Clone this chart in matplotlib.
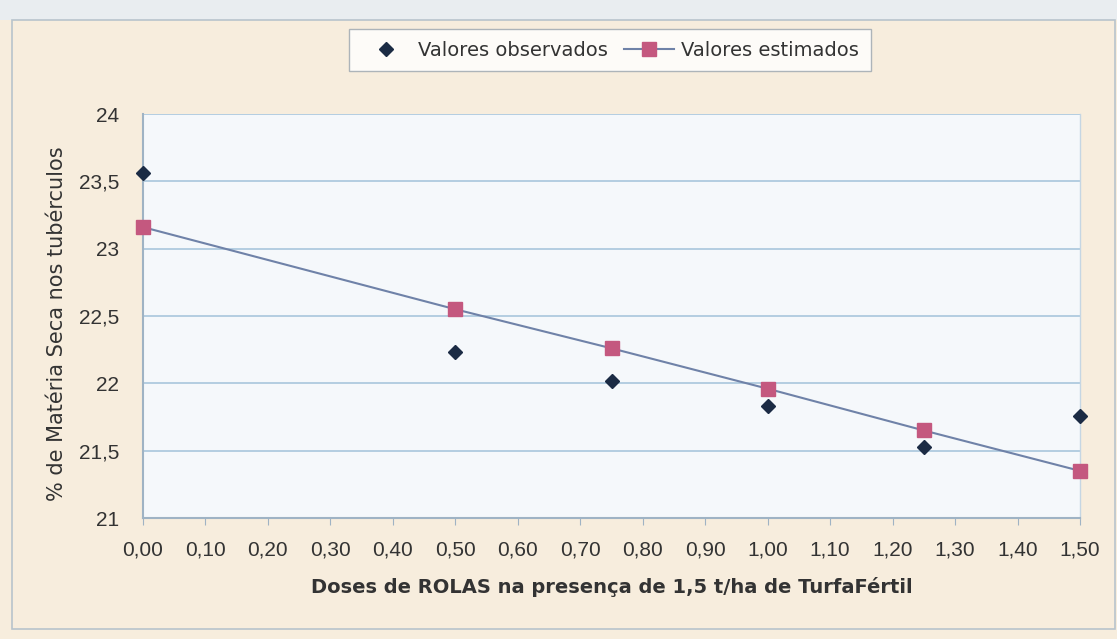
import matplotlib
matplotlib.use("Agg")
import matplotlib.pyplot as plt
from matplotlib.patches import Rectangle

plt.rcParams['font.family'] = ['Liberation Sans', 'DejaVu Sans']

doses = [0.00, 0.50, 0.75, 1.00, 1.25, 1.50]
observados = [23.56, 22.23, 22.02, 21.83, 21.53, 21.76]
estimados = [23.16, 22.55, 22.26, 21.96, 21.65, 21.35]
xticks = [0.0, 0.1, 0.2, 0.3, 0.4, 0.5, 0.6, 0.7, 0.8, 0.9, 1.0, 1.1, 1.2, 1.3, 1.4, 1.5]
yticks = [21, 21.5, 22, 22.5, 23, 23.5, 24]

fig = plt.figure(figsize=(11.17, 6.39), dpi=100, facecolor='#f7eddd')
# top strip and outer frame
fig.patches.append(Rectangle((0, 1 - 20/639), 1, 20/639, transform=fig.transFigure,
                             facecolor='#e9edf0', edgecolor='none', zorder=0))
fig.patches.append(Rectangle((12/1117, 10/639), 1103/1117, 609/639, transform=fig.transFigure,
                             facecolor='none', edgecolor='#b8c4cc', lw=1.2, zorder=1))

ax = fig.add_axes([143/1117, 121/639, 937/1117, 404/639])
ax.set_facecolor('#f5f8fb')

ax.plot(doses, observados, linestyle='none', marker='D', markersize=7,
        color='#1b2b44', label='Valores observados', clip_on=False, zorder=4)
ax.plot(doses, estimados, linestyle='-', color='#6f82a8', lw=1.5, marker='s', markersize=10,
        markerfacecolor='#c4587f', markeredgecolor='#c4587f', label='Valores estimados',
        clip_on=False, zorder=3)

ax.set_xlim(0, 1.5)
ax.set_ylim(21, 24)
ax.set_xticks(xticks)
ax.set_xticklabels([f"{v:.2f}".replace('.', ',') for v in xticks])
ax.set_yticks(yticks)
ax.set_yticklabels([f"{v:g}".replace('.', ',') for v in yticks])
ax.yaxis.grid(True, color='#a9c6dc', lw=1.2)
ax.set_axisbelow(True)
ax.spines['top'].set_visible(False)
ax.spines['right'].set_color('#c5d6e3')
ax.spines['right'].set_linewidth(1.0)
for s in ['left', 'bottom']:
    ax.spines[s].set_color('#9fb3c4')
    ax.spines[s].set_linewidth(1.5)
ax.tick_params(axis='x', colors='#9fb3c4', labelcolor='#333333', labelsize=15, length=5, pad=11)
ax.tick_params(axis='y', colors='#9fb3c4', labelcolor='#333333', labelsize=15, length=0, pad=17)

ax.set_ylabel('% de Matéria Seca nos tubérculos', fontsize=15, color='#333333',
              family=['DejaVu Sans'])
ax.yaxis.set_label_coords(-0.0811, 0.48)
ax.set_xlabel('Doses de ROLAS na presença de 1,5 t/ha de TurfaFértil', fontsize=14,
              fontweight='bold', color='#333333', labelpad=13, family=['DejaVu Sans'])

leg = fig.legend(loc='center', bbox_to_anchor=(610/1117, 1 - 50/639), ncol=2,
                 prop={'family': 'DejaVu Sans', 'size': 14},
                 frameon=True, fancybox=False, edgecolor='#9aa4ad', facecolor='white',
                 handlelength=2.6, columnspacing=0.8, handletextpad=0.35, borderpad=0.6)
leg.get_frame().set_linewidth(1.0)
for t in leg.get_texts():
    t.set_color('#333333')

fig.savefig('out.png', dpi=100, facecolor=fig.get_facecolor())
